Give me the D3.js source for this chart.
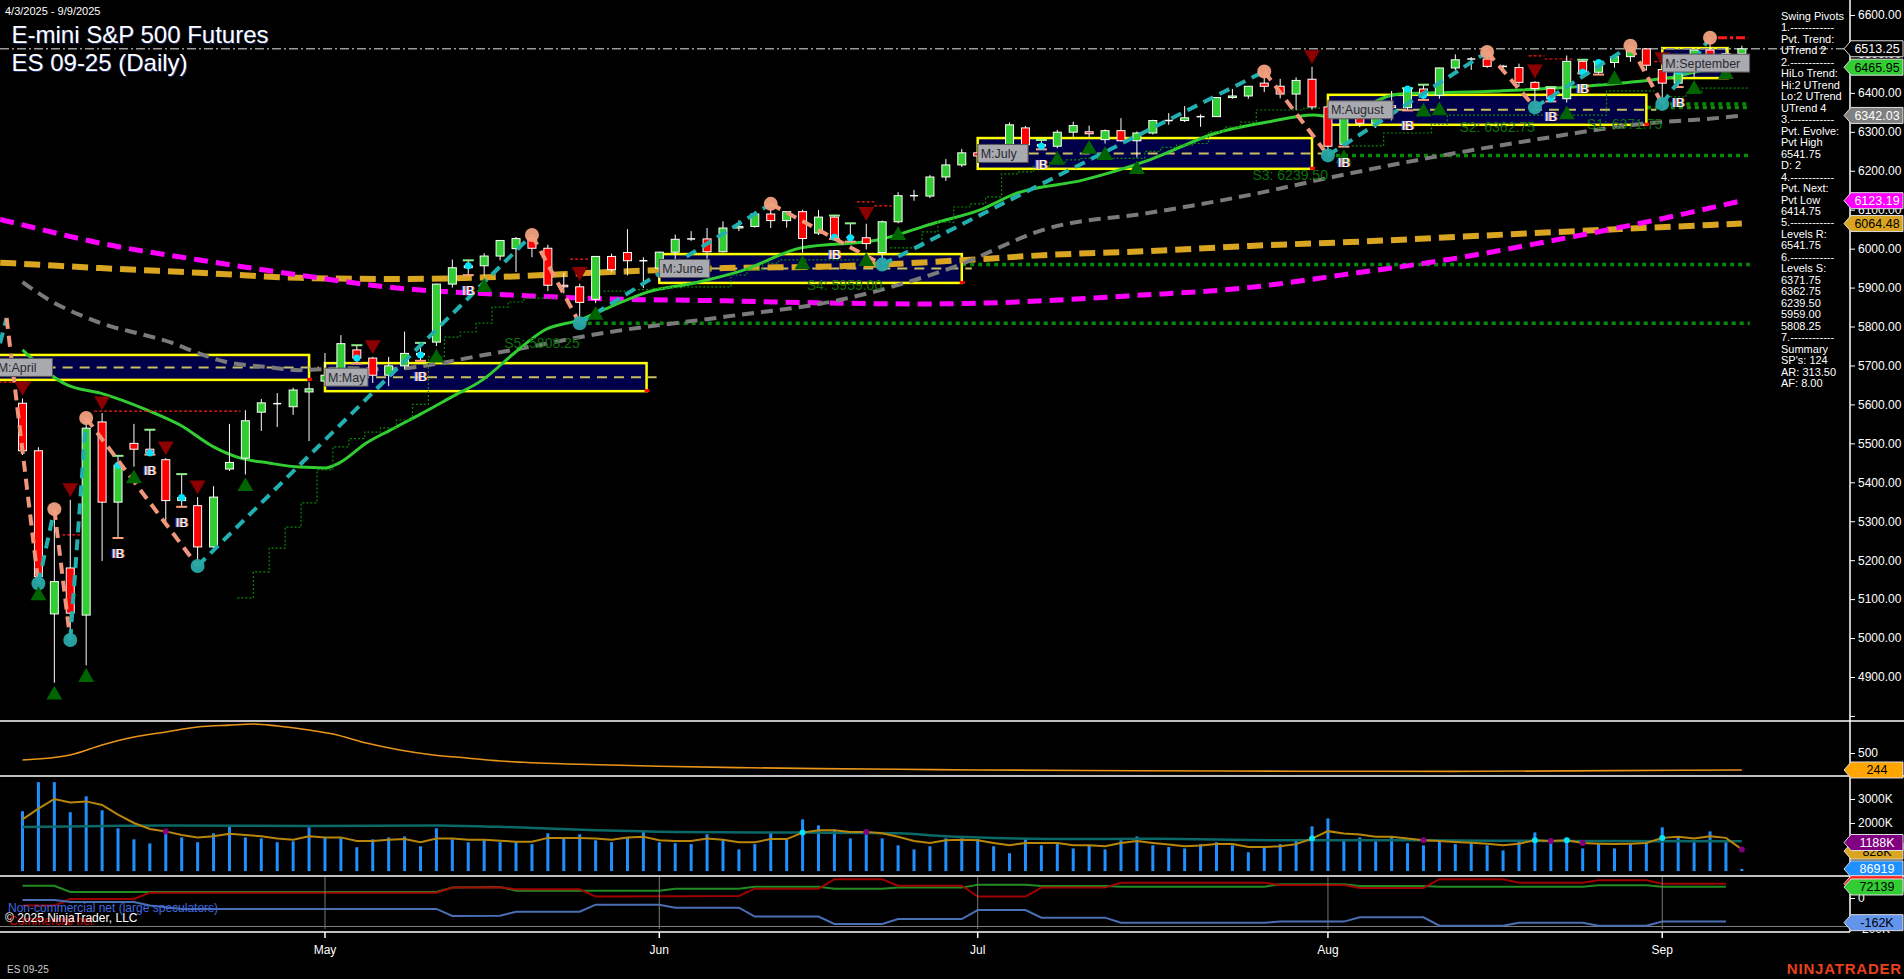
<!DOCTYPE html>
<html><head><meta charset="utf-8">
<script src="https://cdn.jsdelivr.net/npm/d3@7"></script>
<style>
html,body{margin:0;padding:0;background:#000;overflow:hidden}
svg{display:block}
text{font-family:"Liberation Sans",Arial,sans-serif}
</style></head><body>
<svg id="c" width="1904" height="979"></svg>
<script>
// ---------------- DATA ----------------
const dates = ["2025-04-03","2025-04-04","2025-04-07","2025-04-08","2025-04-09","2025-04-10","2025-04-11","2025-04-14","2025-04-15","2025-04-16","2025-04-17","2025-04-21","2025-04-22","2025-04-23","2025-04-24","2025-04-25","2025-04-28","2025-04-29","2025-04-30",
"2025-05-01","2025-05-02","2025-05-05","2025-05-06","2025-05-07","2025-05-08","2025-05-09","2025-05-12","2025-05-13","2025-05-14","2025-05-15","2025-05-16","2025-05-19","2025-05-20","2025-05-21","2025-05-22","2025-05-23","2025-05-27","2025-05-28","2025-05-29","2025-05-30",
"2025-06-02","2025-06-03","2025-06-04","2025-06-05","2025-06-06","2025-06-09","2025-06-10","2025-06-11","2025-06-12","2025-06-13","2025-06-16","2025-06-17","2025-06-18","2025-06-20","2025-06-23","2025-06-24","2025-06-25","2025-06-26","2025-06-27","2025-06-30",
"2025-07-01","2025-07-02","2025-07-03","2025-07-07","2025-07-08","2025-07-09","2025-07-10","2025-07-11","2025-07-14","2025-07-15","2025-07-16","2025-07-17","2025-07-18","2025-07-21","2025-07-22","2025-07-23","2025-07-24","2025-07-25","2025-07-28","2025-07-29","2025-07-30","2025-07-31",
"2025-08-01","2025-08-04","2025-08-05","2025-08-06","2025-08-07","2025-08-08","2025-08-11","2025-08-12","2025-08-13","2025-08-14","2025-08-15","2025-08-18","2025-08-19","2025-08-20","2025-08-21","2025-08-22","2025-08-25","2025-08-26","2025-08-27","2025-08-28","2025-08-29",
"2025-09-02","2025-09-03","2025-09-04","2025-09-05","2025-09-08","2025-09-09"];

const open = [5603,5481,5062,5180,5059,5555,5349,5500,5485,5458, 5353,5340,5234,5434,5462,5580,5600,5594,5632,5660, 5675,5740,5719,5675,5699,5731,5760,5909,5951,5956, 5981,6000,6026,6001,5906,5902,5870,5980,5990,5969, 5950,5991,6024,6025,5992,6053,6057,6089,6072,6095, 6040,6081,6029,6028,5990,6069,6136,6135,6184,6215, 6246,6238,6267,6310,6267,6263,6299,6300,6280,6303, 6277,6297,6329,6329,6336,6339,6388,6392,6425,6417, 6397,6435,6364,6268,6353,6322,6367,6362,6410,6394, 6464,6485,6487,6468,6465,6427,6411,6385,6481,6453, 6478,6493,6513,6460,6425,6456,6510,6489,6501];
const high = [5615,5490,5331,5355,5565,5578,5468,5550,5535,5462, 5421,5362,5390,5550,5585,5614,5629,5643,5657,5732, 5778,5752,5722,5722,5787,5758,5910,5972,5970,5988, 6021,6030,6035,6010,5938,5910,5980,5987,6050,5978, 5992,6036,6045,6053,6070,6073,6095,6115,6095,6100, 6099,6085,6065,6064,6072,6145,6151,6189,6230,6256, 6255,6268,6324,6315,6279,6305,6326,6316,6306,6335, 6301,6331,6348,6366,6345,6389,6410,6417,6455,6436, 6440,6467,6368,6356,6367,6371,6405,6412,6421,6465, 6499,6492,6505,6472,6475,6430,6415,6496,6485,6480, 6496,6521,6515,6462,6457,6510,6541.75,6515,6521];
const low = [5470,5140,4885,4995,4930,5198,5257,5440,5471,5300, 5337,5185,5225,5429,5420,5532,5542,5573,5506,5655, 5668,5705,5655,5647,5690,5712,5750,5900,5932,5931, 5970,5940,5978,5891,5885,5808.25,5860,5939,5931,5899, 5917,5973,6020,5974,5990,6045,6054,6053,6054,5990, 6035,6025,6018,5998,5959,6065,6123,6130,6174,6210, 6213,6231,6262,6238,6255,6258,6287,6286,6270,6275, 6234,6293,6318,6325,6313,6338,6385,6385,6402,6386, 6356,6357,6239.5,6262,6312,6310,6329,6355,6382,6385, 6458,6459,6464,6453,6416,6362.75,6378,6375,6450,6447, 6465,6480,6457,6371.75,6415,6440,6460,6478,6488];
const close = [5481,5158,5145,5064,5539,5349,5444,5485,5475,5353, 5361,5234,5362,5451,5558,5604,5602,5637,5640,5675, 5756,5719,5675,5699,5731,5727,5909,5951,5956,5981, 6021,6026,6001,5906,5902,5862,5980,5946,5969,5968, 5991,6024,6025,5992,6053,6057,6089,6072,6095,6026, 6081,6029,6028,6013,6069,6136,6135,6184,6215,6246, 6238,6267,6318,6267,6263,6299,6316,6295,6303,6277, 6297,6329,6329,6336,6339,6388,6392,6417,6417,6397, 6432,6364,6263,6353,6322,6367,6362,6410,6394,6464, 6485,6487,6468,6465,6427,6411,6385,6481,6453,6478, 6493,6513,6471,6425,6456,6510,6489,6501,6513.25];

// volume in thousands of contracts
const volume = [2490,3700,3700,2450,3110,2530,1780,1320,1150,1570, 1400,1200,1570,1860,1400,1360,1200,1240,1820,1400, 1400,990,1320,1400,1440,1030,1780,1320,1200,1280, 1200,1240,1120,1570,1400,1530,1280,1200,1400,1650, 1200,1160,1120,1530,1280,900,1120,1610,1320,2150, 1900,1730,1360,1690,1360,1070,900,1030,1360,1360, 1320,1030,740,1360,1070,1160,940,1070,900,1280, 1440,1070,1000,940,1120,1200,1070,780,990,1120, 1320,1860,2190,1320,1400,1240,1440,1160,1070,1280, 1120,1200,1070,860,1240,1610,1280,1320,940,1160, 940,1160,1280,1820,1440,1200,1650,1200,87];
const volAvgFast = [2150,2600,3000,2850,2900,2750,2350,2000,1750,1650, 1500,1400,1450,1550,1500,1450,1350,1300,1450,1400, 1400,1250,1250,1300,1330,1200,1350,1350,1300,1300, 1260,1220,1220,1380,1380,1380,1350,1300,1400,1430, 1280,1250,1250,1350,1300,1200,1200,1330,1330,1600, 1700,1700,1630,1630,1570,1430,1250,1170,1280,1300, 1280,1170,1070,1170,1170,1170,1070,1070,1030,1170, 1250,1170,1100,1030,1060,1120,1120,1000,1000,1030, 1120,1350,1660,1560,1520,1430,1430,1350,1280,1250, 1210,1180,1140,1070,1140,1280,1250,1280,1170,1140, 1120,1140,1170,1380,1430,1350,1450,1380,900];
const volAvgSlow = [[0,1830],[9,1900],[18,1870],[26,1900],[30,1840],[36,1700],[41,1630],[49,1600],[55,1570],[58,1450],[61,1380],[66,1330],[71,1340],[79,1280],[88,1280],[96,1250],[108,1240]];
const volCyanDots = [49,81,95,97,103];
const volPurpleDots = [9,53,88,96,98,108];

const atrPts = [[0,395],[3,470],[5,620],[7,740],[9,816],[11,891],[13,920],[14.5,937],[16,907],[18,846],[19.5,786],[21.6,650],[23.7,545],[25.8,470],[27.9,425],[30,380],[35,330],[40,300],[45,280],[50,265],[55,255],[60,245],[70,232],[80,226],[90,224],[100,234],[108,244]];

const cotNonRept = [[0,80],[2,80],[3,39],[26,39],[27,68],[30,72],[31,48],[40,48],[41,61],[45,61],[46,74],[50,74],[51,61],[54,61],[55,68],[59,68],[60,87],[63,87],[64,79],[68,79],[69,74],[78,74],[79,90],[83,90],[84,79],[88,79],[89,74],[98,74],[99,83],[102,83],[103,74],[107,74]];
const cotCommercial = [[0,-50],[2,-50],[3,-7],[7,-7],[8,35],[26,35],[27,68],[30,70],[31,57],[35,57],[36,9],[45,13],[46,61],[50,61],[51,123],[54,123],[55,81],[59,81],[60,9],[63,9],[64,68],[68,68],[69,100],[78,100],[79,85],[83,85],[84,66],[88,66],[89,123],[93,123],[94,100],[98,100],[99,116],[102,116],[103,94],[107,94]];
const cotNonComm = [[0,-13],[2,-13],[3,-26],[7,-26],[8,-50],[10,-72],[26,-72],[27,-118],[30,-116],[31,-90],[35,-90],[36,-44],[40,-44],[41,-64],[45,-64],[46,-122],[50,-122],[51,-170],[54,-170],[55,-138],[59,-138],[60,-79],[63,-79],[64,-129],[68,-129],[69,-162],[78,-162],[79,-155],[83,-155],[84,-127],[88,-127],[89,-182],[93,-182],[94,-162],[98,-162],[99,-182],[102,-182],[103,-155],[107,-155]];
const cotBase = -187;

// moving averages [bar index, price]
const maMagenta = [[-1.4,6075],[0,6061],[4.9,6014],[11.1,5971],[17.4,5932],[23.5,5899],[29.7,5883],[36.9,5871],[44.1,5866],[51.3,5860],[56.1,5858],[60.1,5860],[70,5880],[77,5900],[82.8,5932],[90,5975],[96,6020],[101,6060],[105,6095],[108,6123.19]];
const maGold = [[-1.4,5964],[0,5961],[4.9,5950],[11.1,5938],[17.4,5925],[23.5,5922],[29.7,5927],[36.9,5940],[44.1,5950],[51.3,5955],[58.9,5970],[64.5,5984],[70.8,5994],[77.1,6007],[83.4,6017],[95,6040],[108,6064.48]];
const maGray = [[0,5914],[1.9,5863],[3.6,5830],[5.5,5801],[7.4,5781],[9.4,5758],[10.5,5740],[12.8,5709],[15.4,5696],[17.4,5688],[20.6,5693],[22.6,5690],[29.7,5732],[36.9,5786],[44.1,5825],[51.3,5868],[58.3,5950],[64.5,6053],[70.8,6092],[77.1,6138],[82.3,6184],[88.6,6235],[94.9,6279],[101.2,6318],[107.1,6338],[108,6342.03]];
const maGreen = [[0,5740],[2.8,5650],[4.9,5629],[7.8,5586],[9.9,5547],[12,5491],[13.7,5462],[15.4,5450],[17.4,5439],[19,5437],[19.9,5450],[21.6,5501],[23.1,5534],[25,5575],[27,5620],[28.9,5663],[30.9,5732],[32.8,5791],[35,5817],[36.9,5850],[39.3,5889],[42.2,5912],[45.3,5945],[48.9,6002],[53.7,6022],[57.3,6066],[60.1,6099],[62.5,6143],[66.6,6176],[70.8,6228],[75,6297],[78.2,6325],[81.1,6343],[82.3,6338],[86.5,6397],[92.8,6405],[99.1,6420],[103.3,6438],[107.1,6466],[108,6465.95]];

// trailing stop (stepped, dotted)
const trailSegs = [
 [[14,5103],[15,5170],[16,5231],[17,5285],[18,5347],[19,5432],[20,5491],[21,5512],[22,5529],[23,5540],[24,5560],[25,5600],[26,5722],[27,5773],[28,5786],[29,5809],[30,5850],[31,5863],[32,5873],[33,5873]],
 [[37,5891],[38,5891],[39,5895],[40,5898],[41,5900],[42,5902],[43,5902],[44,5902],[45,5932],[46,5945],[47,5963],[48,5971],[49,5971],[50,5971],[51,5971],[52,5971]],
 [[55,6002],[56,6002],[57,6043],[58,6068],[59,6107],[60,6115],[61,6133],[62,6192],[63,6197],[64,6212],[65,6220],[66,6228],[67,6232],[68,6232],[69,6232],[70,6232],[71,6250],[72,6260],[73,6266],[74,6270],[75,6300],[76,6312],[77,6325],[78,6356],[79,6356],[80,6356],[81,6361]],
 [[84,6264],[85,6264],[86,6297],[87,6297],[88,6297],[89,6320],[90,6343],[91,6343],[92,6343],[93,6343],[94,6343],[95,6343],[96,6343],[97,6343],[98,6343],[99,6343],[100,6405],[101,6405],[102,6405]],
 [[104,6390],[105,6400],[106,6412],[107,6412],[108,6412]]
];
// short red stop dashes [fromIdx, toIdx, price]
const redStops = [[-1.5,0.5,5657],[2.5,3.6,5265],[4.5,13.7,5583],[34.4,35.6,5973],[52.4,53.5,6120],[53.5,54.6,6110],[94.6,95.6,6495],[95.6,97.5,6487],[102.5,103.5,6480]];

// swing pivots [bar index, price]
const pivots = [[-1.41,5757],[-1,5822],[1,5140],[2,5331],[3,4995],[4,5565],[11,5185],[32,6035],[35,5808.25],[47,6115],[54,5959],[78,6455],[82,6239.5],[92,6505],[95,6362.75],[101,6521],[103,6371.75],[106,6541.75]];

// support levels [start index, price, label]
const levelsS = [[35,5808.25,"S5: 5808.25"],[54,5959,"S4: 5959.00"],[82,6239.5,"S3: 6239.50"],[95,6362.75,"S2: 6362.75"],[103,6371.75,"S1: 6371.75"]];
const levelR = [106.5,108.4,6541.75];

// monthly boxes [label, startIdx, endIdx, top, bottom]
const monthBoxes = [["M:April",-1.75,18,5727,5663],["M:May",19,39.2,5706,5634],["M:June",40,59,5986,5912],["M:July",60,81,6284,6205],["M:August",82,102,6395,6318],["M:September",103,107.1,6515,6438]];

const sellSignals = [0,3,5,9,11,22,35,53,81,95,103];
const buySignals = [1,2,4,7,14,26,29,36,49,53,55,65,67,68,70,83,88,89,97,100,105,107];
const insideBars = [6,8,10,21,25,28,51,52,64,83,87,88,96,98,99,104];
const ibLabels = [6,8,10,25,28,51,64,83,87,96,98,104];

const lastPrice = 6513.25;
const priceTicks = [4800,4900,5000,5100,5200,5300,5400,5500,5600,5700,5800,5900,6000,6100,6200,6300,6400,6500,6600];
const mainTags = [[6513.25,"6513.25","#000","#fff"],[6465.95,"6465.95","#32CD32","#000"],[6342.03,"6342.03","#808080","#fff"],[6123.19,"6123.19","#FF00FF","#fff"],[6064.48,"6064.48","#DAA520","#000"]];
const swingPanel = ["Swing Pivots","1.------------","Pvt. Trend:","UTrend 2","2.------------","HiLo Trend:","Hi:2 UTrend","Lo:2 UTrend","UTrend 4","3.------------","Pvt. Evolve:","Pvt High","6541.75","D: 2","4.------------","Pvt. Next:","Pvt Low","6414.75","5.------------","Levels R:","6541.75","6.------------","Levels S:","6371.75","6362.75","6239.50","5959.00","5808.25","7.------------","Summary","SP's: 124","AR: 313.50","AF: 8.00"];
const monthNames = ["Jan","Feb","Mar","Apr","May","Jun","Jul","Aug","Sep","Oct","Nov","Dec"];

// ---------------- LAYOUT ----------------
const AX = 1850;
const svg = d3.select("#c");
svg.append("rect").attr("width",1904).attr("height",979).attr("fill","#000");
const defs = svg.append("defs");
defs.append("clipPath").attr("id","mainClip").append("rect").attr("x",0).attr("y",0).attr("width",AX).attr("height",720);
defs.append("clipPath").attr("id","lowClip").append("rect").attr("x",0).attr("y",721).attr("width",AX).attr("height",211);

const x = d3.scaleLinear().domain([0,108]).range([22.5, 22.5+108*15.92]);
const y = d3.scaleLinear().domain([4789.6, 6638.5]).range([720, 0]);
const yAtr = d3.scaleLinear().domain([153.6, 982]).range([776, 721]);
const yVol = d3.scaleLinear().domain([0, 3958]).range([871, 776]);
const yCot = d3.scaleLinear().domain([-220, 150.8]).range([931.5, 875]);

const main = svg.append("g").attr("clip-path","url(#mainClip)");

// support levels
const gLev = main.append("g");
levelsS.forEach(d=>{
  gLev.append("line").attr("x1",x(d[0])).attr("x2",x(108.5)).attr("y1",y(d[1])).attr("y2",y(d[1]))
    .attr("stroke","#0a8a0a").attr("stroke-width",3.5).attr("stroke-dasharray","4,4");
});

// month boxes
const gBox = main.append("g");
monthBoxes.forEach(b=>{
  const x0 = x(b[1]), x1 = x(b[2]);
  gBox.append("rect").attr("x",x0).attr("y",y(b[3])).attr("width",x1-x0).attr("height",y(b[4])-y(b[3]))
    .attr("fill","#00004a").attr("stroke","#ffff00").attr("stroke-width",2.5);
  const mid = (b[3]+b[4])/2;
  gBox.append("line").attr("x1",x0).attr("x2",x1+10).attr("y1",y(mid)).attr("y2",y(mid))
    .attr("stroke","#c8c060").attr("stroke-width",2).attr("stroke-dasharray","10,7");
  gBox.append("rect").attr("x",x1-2).attr("y",y(b[4])-2).attr("width",5).attr("height",3).attr("fill","#ff0000");
});

// last price dash-dot line
main.append("line").attr("x1",0).attr("x2",AX).attr("y1",y(lastPrice)).attr("y2",y(lastPrice))
  .attr("stroke","#9a9a9a").attr("stroke-width",1.5).attr("stroke-dasharray","9,3,2,3");

// moving averages
const mline = d3.line().x(d=>x(d[0])).y(d=>y(d[1])).curve(d3.curveMonotoneX);
main.append("path").attr("d",mline(maGold)).attr("fill","none").attr("stroke","#DAA520").attr("stroke-width",6).attr("stroke-dasharray","16,8");
main.append("path").attr("d",mline(maMagenta)).attr("fill","none").attr("stroke","#FF00FF").attr("stroke-width",5).attr("stroke-dasharray","14,8");
main.append("path").attr("d",mline(maGray)).attr("fill","none").attr("stroke","#7a7a7a").attr("stroke-width",4).attr("stroke-dasharray","12,7");
main.append("path").attr("d",mline(maGreen)).attr("fill","none").attr("stroke","#32CD32").attr("stroke-width",3);

// trailing stop
trailSegs.forEach(seg=>{
  const pts = seg.map(d=>[x(d[0])-8, y(d[1])]);
  const last = seg[seg.length-1];
  pts.push([x(last[0])+8, y(last[1])]);
  main.append("path").attr("d",d3.line().curve(d3.curveStepAfter)(pts)).attr("fill","none")
    .attr("stroke","#0a8a0a").attr("stroke-width",1.2).attr("stroke-dasharray","2,2");
});
redStops.forEach(d=>{
  main.append("line").attr("x1",x(d[0])).attr("x2",x(d[1])).attr("y1",y(d[2])).attr("y2",y(d[2]))
    .attr("stroke","#ff1a1a").attr("stroke-width",1.2).attr("stroke-dasharray","3,2");
});
main.append("line").attr("x1",x(levelR[0])).attr("x2",x(levelR[1])).attr("y1",y(levelR[2])).attr("y2",y(levelR[2]))
  .attr("stroke","#ff1a1a").attr("stroke-width",3).attr("stroke-dasharray","9,3,3,3");

// candles
const gC = main.append("g");
dates.forEach((d,i)=>{
  const cx = x(i);
  gC.append("line").attr("x1",cx).attr("x2",cx).attr("y1",y(high[i])).attr("y2",y(low[i])).attr("stroke","#fff").attr("stroke-width",1);
  const top = y(Math.max(open[i],close[i])), bot = y(Math.min(open[i],close[i]));
  const up = close[i] >= open[i];
  const h = Math.max(1, bot-top);
  if (h <= 1.5) {
    gC.append("line").attr("x1",cx-4).attr("x2",cx+4).attr("y1",top).attr("y2",top).attr("stroke","#fff").attr("stroke-width",1.5);
  } else {
    gC.append("rect").attr("x",cx-4).attr("y",top).attr("width",8).attr("height",h)
      .attr("fill", up ? "#32CD32" : "#ff0000").attr("stroke","#fff").attr("stroke-width",1);
  }
});
// inside bar ticks
insideBars.forEach(i=>{
  const cx = x(i);
  gC.append("line").attr("x1",cx-5.5).attr("x2",cx+5.5).attr("y1",y(high[i])).attr("y2",y(high[i])).attr("stroke","#90EE90").attr("stroke-width",2);
  gC.append("line").attr("x1",cx-5.5).attr("x2",cx+5.5).attr("y1",y(low[i])).attr("y2",y(low[i])).attr("stroke","#FFA07A").attr("stroke-width",2);
  gC.append("circle").attr("cx",cx).attr("cy",y(close[i])).attr("r",3.5).attr("fill","#00E5FF");
});

// zigzag
const gZ = main.append("g");
for (let k=0;k<pivots.length-1;k++){
  const a = pivots[k], b = pivots[k+1];
  const upLeg = b[1] > a[1];
  gZ.append("line").attr("x1",x(a[0])).attr("y1",y(a[1])).attr("x2",x(b[0])).attr("y2",y(b[1]))
    .attr("stroke", upLeg ? "#22AFAF" : "#F0967A").attr("stroke-width",4).attr("stroke-dasharray","11,7");
}
pivots.slice(2).forEach((p,k)=>{
  const prev = pivots[k+1];
  const isHigh = p[1] > prev[1];
  gZ.append("circle").attr("cx",x(p[0])).attr("cy",y(p[1])).attr("r",7)
    .attr("fill", isHigh ? "#F2A080" : "#2AA8A8").attr("opacity",0.95);
});

// signals
const tri = d3.symbol().type(d3.symbolTriangle).size(110);
sellSignals.forEach(i=>{
  gZ.append("path").attr("d",tri()).attr("transform",`translate(${x(i)},${y(high[i])-12}) rotate(180)`).attr("fill","#8B0000");
});
buySignals.forEach(i=>{
  gZ.append("path").attr("d",tri()).attr("transform",`translate(${x(i)},${y(low[i])+12})`).attr("fill","#006400");
});
ibLabels.forEach(i=>{
  const tx = x(i), ty = y(low[i]) + 20;
  gZ.append("text").attr("x",tx-1).attr("y",ty).attr("text-anchor","middle").attr("font-size",13).attr("fill","#4060ff").text("IB");
  gZ.append("text").attr("x",tx+1).attr("y",ty).attr("text-anchor","middle").attr("font-size",13).attr("fill","#ff9050").text("IB");
  gZ.append("text").attr("x",tx).attr("y",ty).attr("text-anchor","middle").attr("font-size",13).attr("fill","#fff").text("IB");
});

// level labels
levelsS.forEach(d=>{
  main.append("text").attr("x",x(d[0])).attr("y",y(d[1])+25).attr("text-anchor","end")
    .attr("font-size",14).attr("fill","#0d700d").text(d[2]);
});

// month box labels
monthBoxes.forEach(b=>{
  const x0 = x(b[1]);
  const mid = (b[3]+b[4])/2;
  const w = b[0].length*7.4+6;
  main.append("rect").attr("x",x0).attr("y",y(mid)-9).attr("width",w).attr("height",18)
    .attr("fill","#a9a9b0").attr("stroke","#555").attr("stroke-width",1);
  main.append("text").attr("x",x0+3).attr("y",y(mid)+4.5).attr("font-family","Liberation Mono, monospace")
    .attr("font-size",12.5).attr("fill","#2a2a30").text(b[0]);
});

// ---------------- LOWER PANELS ----------------
const low2 = svg.append("g").attr("clip-path","url(#lowClip)");
low2.append("path").attr("d",d3.line().x(d=>x(d[0])).y(d=>yAtr(d[1])).curve(d3.curveMonotoneX)(atrPts))
  .attr("fill","none").attr("stroke","#E8951A").attr("stroke-width",1.6);

// volume
volume.forEach((v,i)=>{
  low2.append("line").attr("x1",x(i)).attr("x2",x(i)).attr("y1",yVol(0)).attr("y2",yVol(v))
    .attr("stroke","#1E90FF").attr("stroke-width",3);
});
low2.append("path").attr("d",d3.line().x(d=>x(d[0])).y(d=>yVol(d[1])).curve(d3.curveMonotoneX)(volAvgSlow))
  .attr("fill","none").attr("stroke","#0b6868").attr("stroke-width",2.5);
low2.append("path").attr("d",d3.line().x((d,i)=>x(i)).y(d=>yVol(d))(volAvgFast))
  .attr("fill","none").attr("stroke","#B8860B").attr("stroke-width",2);
volCyanDots.forEach(i=>low2.append("circle").attr("cx",x(i)).attr("cy",yVol(volAvgFast[i])).attr("r",3).attr("fill","#00E5FF"));
volPurpleDots.forEach(i=>low2.append("circle").attr("cx",x(i)).attr("cy",yVol(volAvgFast[i])).attr("r",3).attr("fill","#800080"));

// COT
low2.append("line").attr("x1",0).attr("x2",AX).attr("y1",yCot(cotBase)).attr("y2",yCot(cotBase)).attr("stroke","#808080").attr("stroke-width",1);
const cline = d3.line().x(d=>x(d[0])).y(d=>yCot(d[1]));
low2.append("path").attr("d",cline(cotNonRept)).attr("fill","none").attr("stroke","#228B22").attr("stroke-width",2);
low2.append("path").attr("d",cline(cotCommercial)).attr("fill","none").attr("stroke","#B00000").attr("stroke-width",2).attr("opacity",0.9);
low2.append("path").attr("d",cline(cotNonComm)).attr("fill","none").attr("stroke","#4A6FB5").attr("stroke-width",2);

// month ticks & separators
const monthStarts = [];
dates.forEach((d,i)=>{ if(i>0 && d.slice(5,7)!==dates[i-1].slice(5,7)) monthStarts.push(i); });
monthStarts.forEach(i=>{
  svg.append("line").attr("x1",x(i)).attr("x2",x(i)).attr("y1",877).attr("y2",929).attr("stroke","#777").attr("stroke-width",1);
  svg.append("line").attr("x1",x(i)).attr("x2",x(i)).attr("y1",932).attr("y2",938).attr("stroke","#fff").attr("stroke-width",1.5);
  svg.append("text").attr("x",x(i)).attr("y",954).attr("text-anchor","middle").attr("font-size",12).attr("fill","#fff")
    .text(monthNames[+dates[i].slice(5,7)-1]);
});
[721,776,876].forEach(v=>svg.append("line").attr("x1",0).attr("x2",1904).attr("y1",v).attr("y2",v).attr("stroke","#fff").attr("stroke-width",1.5));
svg.append("line").attr("x1",0).attr("x2",AX).attr("y1",932).attr("y2",932).attr("stroke","#fff").attr("stroke-width",1.5);
svg.append("line").attr("x1",AX).attr("x2",AX).attr("y1",0).attr("y2",932).attr("stroke","#fff").attr("stroke-width",1.5);

// axes
function styleAxis(g){
  g.select(".domain").remove();
  g.selectAll(".tick line").attr("stroke","#fff");
  g.selectAll(".tick text").attr("fill","#fff").attr("font-size",12).attr("font-family","Liberation Sans, Arial, sans-serif");
}
svg.append("g").attr("transform",`translate(${AX},0)`)
  .call(d3.axisRight(y).tickValues(priceTicks).tickSize(5).tickFormat(v=> v===4800 ? "" : d3.format(".2f")(v))).call(styleAxis);
svg.append("g").attr("transform",`translate(${AX},0)`)
  .call(d3.axisRight(yAtr).tickValues([500]).tickSize(5).tickFormat(d3.format("d"))).call(styleAxis);
svg.append("g").attr("transform",`translate(${AX},0)`)
  .call(d3.axisRight(yVol).tickValues([2000,3000]).tickSize(5).tickFormat(v=>v+"K")).call(styleAxis);
svg.append("g").attr("transform",`translate(${AX},0)`)
  .call(d3.axisRight(yCot).tickValues([0,-200]).tickSize(5).tickFormat(v=> v===0 ? "0" : v+"K")).call(styleAxis);

// tags
function tag(yv, txt, fill, tcol){
  const g = svg.append("g");
  g.append("path").attr("d",`M${AX-6},${yv} L${AX+1},${yv-8} L1903,${yv-8} L1903,${yv+8} L${AX+1},${yv+8} Z`)
    .attr("fill",fill).attr("stroke","#ddd").attr("stroke-width",1);
  g.append("text").attr("x",1877).attr("y",yv+4.5).attr("text-anchor","middle").attr("font-size",12.5).attr("fill",tcol).text(txt);
}
mainTags.forEach(t=>tag(y(t[0]),t[1],t[2],t[3]));
tag(yAtr(atrPts[atrPts.length-1][1]),"244","#FFA500","#000");
tag(yVol(828),"828K","#DAA520","#000");
tag(yVol(1188),"1188K","#800080","#fff");
tag(yVol(volume[volume.length-1]),"86919","#1E90FF","#fff");
tag(yCot(94),"","#ff2020","#000");
tag(yCot(72.139),"72139","#32CD32","#000");
tag(yCot(-162),"-162K","#6495ED","#000");

// swing pivot panel text
swingPanel.forEach((t,k)=>{
  svg.append("text").attr("x",1781).attr("y",20+k*11.47).attr("font-size",11).attr("fill","#fff").text(t);
});

// titles
svg.append("text").attr("x",5).attr("y",15).attr("font-size",11).attr("fill","#fff").text("4/3/2025 - 9/9/2025");
[["E-mini S&P 500 Futures",43],["ES 09-25 (Daily)",71]].forEach(t=>{
  svg.append("text").attr("x",12.5).attr("y",t[1]+0.8).attr("font-size",24).attr("fill","#203070").text(t[0]);
  svg.append("text").attr("x",11.5).attr("y",t[1]).attr("font-size",24).attr("fill","#fff").text(t[0]);
});

// bottom texts
svg.append("text").attr("x",8).attr("y",912).attr("font-size",12).attr("fill","#4169E1").text("Non-commercial net (large speculators)");
svg.append("text").attr("x",9).attr("y",925).attr("font-size",12).attr("fill","#cc0000").text("Commercial net");
svg.append("text").attr("x",5).attr("y",922).attr("font-size",12).attr("fill","#fff").text("© 2025 NinjaTrader, LLC");
svg.append("text").attr("x",7).attr("y",973).attr("font-size",10).attr("fill","#ccc").text("ES 09-25");
svg.append("text").attr("x",1902).attr("y",974).attr("text-anchor","end").attr("font-size",15).attr("font-weight","bold")
  .attr("fill","#E8401C").attr("letter-spacing",0.8).text("NINJATRADER");
</script>
</body></html>
